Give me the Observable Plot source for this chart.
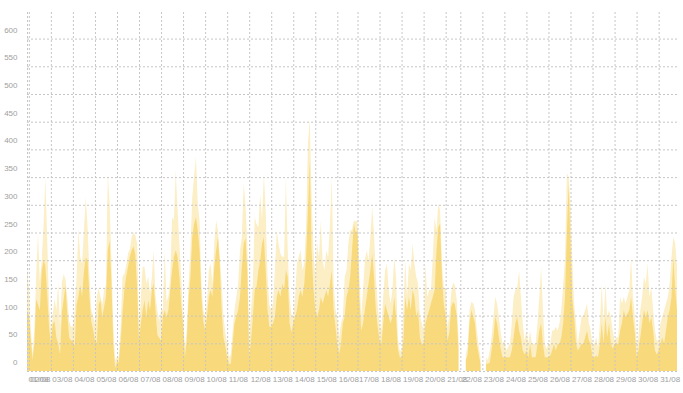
<!DOCTYPE html>
<html><head><meta charset="utf-8">
<script src="https://cdn.jsdelivr.net/npm/d3@7"></script>
<script src="https://cdn.jsdelivr.net/npm/@observablehq/plot@0.6"></script>
<style>body{margin:0;background:#fff}</style>
</head><body><div id="chart"></div>
<script>
const dayLabels = ["01/08","02/08","03/08","04/08","05/08","06/08","07/08","08/08","09/08","10/08","11/08","12/08","13/08","14/08","15/08","16/08","17/08","18/08","19/08","20/08","21/08","22/08","23/08","24/08","25/08","26/08","27/08","28/08","29/08","30/08","31/08"];
// number of samples recorded on each day
const samplesPerDay = [1,12,12,12,12,12,12,12,12,12,12,12,12,12,12,11,12,12,12,12,8,12,12,12,12,12,12,12,12,12,11];
const yTicks = [0,50,100,150,200,250,300,350,400,450,500,550,600];

// average value per sample (solid fill)
const avg = [
110,
100,60,20,50,130,120,110,180,200,190,140,80,
50,85,90,60,50,30,105,130,155,100,60,55,
55,45,120,135,155,135,180,205,200,135,90,75,
55,50,120,128,98,116,134,218,236,158,50,5,
16,16,55,104,146,170,188,206,218,225,210,150,
55,86,110,128,98,128,110,146,158,110,65,60,
55,98,110,98,110,146,182,206,218,206,170,120,
86,25,55,134,170,242,266,278,254,218,134,90,
73,98,134,146,134,188,218,242,194,110,61,45,
25,13,13,49,86,98,110,134,188,230,240,180,
25,55,98,146,152,182,200,230,242,182,110,80,
80,86,98,134,146,134,158,146,182,170,86,70,
86,98,110,134,146,134,158,206,290,380,218,150,
110,98,110,134,122,134,146,134,158,182,110,80,
49,31,49,86,98,134,146,170,218,266,250,
254,134,73,86,110,134,158,182,212,170,110,80,
55,49,86,122,110,98,86,98,134,98,40,25,
25,55,134,110,134,110,146,134,98,110,60,49,
49,86,98,110,122,134,146,218,260,266,170,120,
100,55,70,115,125,120,100,40,
null,null,null,20,30,86,110,98,86,49,30,13,
null,null,13,13,15,37,61,98,86,61,40,25,
25,25,25,25,37,61,86,98,73,61,37,30,
37,25,49,25,25,25,49,73,86,49,25,25,
25,28,37,49,37,49,49,61,86,134,250,340,
230,130,98,49,37,43,49,49,61,73,55,49,
25,25,28,25,49,86,49,98,61,86,49,40,
49,49,49,73,86,110,98,104,110,134,98,70,
25,37,61,86,110,98,110,86,98,73,37,30,
37,49,61,49,73,98,110,134,206,150,110
];
// peak value per sample (pale fill)
const peak = [
190,
150,80,30,75,175,250,160,200,262,350,240,120,
75,100,130,110,160,80,160,175,165,130,90,80,
80,110,170,257,206,194,254,315,260,175,110,100,
85,134,150,135,120,146,155,357,302,200,85,20,
25,25,80,170,175,190,212,220,242,250,245,230,
70,135,188,188,158,170,140,170,218,135,110,90,
110,110,218,125,135,170,278,272,363,290,230,170,
98,40,73,158,218,314,351,387,302,272,158,110,
98,122,182,194,158,230,272,254,206,158,98,70,
50,25,30,73,110,134,158,218,242,339,300,230,
49,110,158,278,266,260,320,272,357,290,170,120,
110,122,182,254,230,212,206,206,351,218,134,100,
98,134,194,206,218,182,194,260,411,455,314,220,
170,230,206,272,200,182,218,206,266,351,158,110,
98,60,86,98,170,182,230,254,254,272,270,
272,182,98,146,200,218,200,242,296,248,170,120,
86,73,134,182,194,146,122,146,206,170,60,37,
37,110,200,134,194,182,230,194,170,158,100,86,
73,194,134,146,146,206,278,254,302,290,194,150,
150,80,100,140,160,155,130,60,
null,null,null,30,45,110,125,122,110,73,45,25,
null,null,25,20,37,61,98,134,122,98,70,49,
55,37,43,49,86,134,146,152,182,134,86,55,
73,49,73,49,49,49,86,134,188,110,49,40,
49,49,73,73,80,73,86,110,158,200,357,350,
300,200,122,86,49,73,98,100,110,122,86,73,
49,49,61,43,86,158,86,158,98,110,98,73,
55,61,61,134,122,134,122,134,146,206,134,100,
49,61,110,134,170,158,194,134,152,110,73,55,
55,86,98,110,122,134,158,206,242,230,188
];

const dayStart = [];
{ let acc = 0; for (const n of samplesPerDay) { dayStart.push(acc); acc += n; } }
const rows = avg.map((v, i) => ({i, avg: v, peak: peak[i]}));
const N = rows.length;
const grid = {stroke: "#c6c6c6", strokeOpacity: 1, strokeDasharray: "2,2"};

const chart = Plot.plot({
  width: 683, height: 393,
  marginLeft: 27, marginRight: 6, marginTop: 12, marginBottom: 22,
  style: {fontFamily: "'Liberation Sans', Arial, sans-serif", fontSize: "8px", background: "#fff"},
  x: {type: "linear", domain: [0, N - 1], axis: null, label: null},
  y: {domain: [0, 648], axis: null, label: null},
  marks: [
    Plot.areaY(rows, {x: "i", y1: 0, y2: "peak", fill: "#fcefc6", curve: "linear"}),
    Plot.areaY(rows, {x: "i", y1: 0, y2: "avg", fill: "#f8da7c", curve: "linear"}),
    Plot.gridY(yTicks, grid),
    Plot.gridX(dayStart, grid),
    Plot.axisY(yTicks, {tickSize: 0, tickPadding: 10, dy: -9, color: "#a0a0a0", fontSize: 8, label: null}),
    Plot.axisX(dayStart, {tickSize: 0, tickPadding: 5, textAnchor: "start", dx: 1, color: "#a0a0a0", fontSize: 8, label: null,
      tickFormat: d => dayLabels[dayStart.indexOf(d)]})
  ]
});
document.getElementById("chart").appendChild(chart);
</script>
</body></html>
